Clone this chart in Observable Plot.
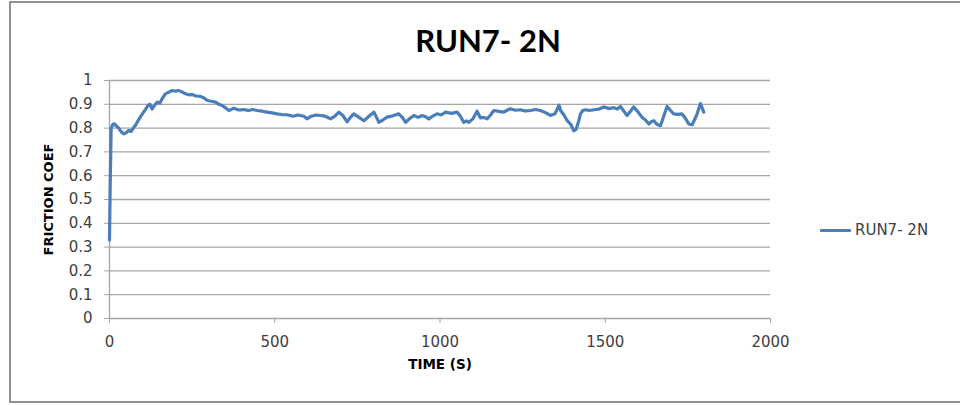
<!DOCTYPE html>
<html><head><meta charset="utf-8">
<script src="https://cdn.jsdelivr.net/npm/d3@7"></script>
<script src="https://cdn.jsdelivr.net/npm/@observablehq/plot@0.6"></script>
<style>
body{margin:0;background:#fff;font-family:"DejaVu Sans",sans-serif;}
#wrap{position:relative;width:960px;height:405px;overflow:hidden;background:#fff;}
#frame{position:absolute;left:9px;top:1px;width:960px;height:402px;border:2px solid #8f8f8f;border-right:none;box-sizing:border-box;pointer-events:none;}
#title{position:absolute;left:338px;width:300px;top:20px;text-align:center;font-family:Lato,sans-serif;font-weight:bold;font-size:31px;color:#000;line-height:40px;}
#legend{position:absolute;left:820px;top:220px;height:20px;display:flex;align-items:center;font-size:15px;color:#404040;}
#legend .sw{width:31px;height:3px;background:#4a7ebb;margin-right:4px;border-radius:1px;}
#chart{position:absolute;left:0;top:0;}
</style>
</head><body>
<div id="wrap">
  <div id="chart"></div>
  <div id="title"></div>
  <div id="legend"><div class="sw"></div><span id="legtext"></span></div>
  <div id="frame"></div>
</div>
<script>
const chartTitle = "RUN7- 2N";
const seriesName = "RUN7- 2N";
const xLabel = "TIME (S)";
const yLabel = "FRICTION COEF";
const xTicks = [0, 500, 1000, 1500, 2000];
const yTicks = [0, 0.1, 0.2, 0.3, 0.4, 0.5, 0.6, 0.7, 0.8, 0.9, 1];

const time = [0,2,5,10,15,20,28,35,43,50,58,65,72,80,88,95,102,110,116,122,129,136,144,152,160,169,178,190,200,207,215,222,230,240,250,262,275,285,296,308,321,331,341,351,361,368,376,390,406,420,434,447,462,477,492,507,522,538,555,570,578,588,598,610,625,638,652,669,682,694,706,719,729,739,755,770,785,800,808,815,828,840,858,875,886,896,908,921,934,946,956,966,978,991,1004,1017,1035,1052,1062,1072,1080,1087,1100,1112,1118,1122,1132,1143,1153,1163,1178,1193,1203,1213,1228,1243,1258,1274,1289,1304,1319,1334,1348,1360,1365,1375,1385,1395,1405,1412,1420,1425,1432,1440,1452,1466,1481,1496,1511,1526,1536,1546,1556,1566,1576,1586,1598,1611,1621,1632,1640,1647,1657,1667,1677,1687,1697,1707,1720,1732,1743,1753,1763,1770,1778,1788,1793,1798];

const coef = [0.33,0.55,0.80,0.815,0.818,0.81,0.80,0.785,0.776,0.78,0.79,0.785,0.80,0.815,0.835,0.85,0.865,0.88,0.895,0.90,0.88,0.895,0.909,0.905,0.925,0.944,0.95,0.958,0.955,0.958,0.955,0.95,0.944,0.94,0.941,0.935,0.933,0.928,0.916,0.913,0.909,0.90,0.895,0.885,0.874,0.878,0.884,0.876,0.878,0.874,0.878,0.874,0.871,0.867,0.864,0.86,0.857,0.856,0.85,0.855,0.853,0.85,0.839,0.85,0.855,0.853,0.85,0.839,0.85,0.867,0.853,0.826,0.845,0.86,0.845,0.831,0.85,0.867,0.845,0.824,0.835,0.846,0.852,0.86,0.845,0.824,0.84,0.853,0.845,0.853,0.848,0.839,0.85,0.86,0.855,0.867,0.862,0.867,0.85,0.824,0.83,0.824,0.84,0.871,0.855,0.843,0.845,0.839,0.855,0.874,0.87,0.867,0.875,0.881,0.875,0.877,0.872,0.874,0.878,0.874,0.865,0.853,0.86,0.896,0.874,0.855,0.831,0.817,0.789,0.795,0.831,0.86,0.874,0.877,0.874,0.877,0.88,0.889,0.882,0.886,0.88,0.891,0.872,0.853,0.87,0.889,0.87,0.846,0.835,0.817,0.828,0.831,0.815,0.81,0.85,0.891,0.875,0.86,0.858,0.86,0.84,0.817,0.814,0.835,0.86,0.903,0.885,0.867];

const data = time.map((t, i) => ({t, c: coef[i]}));
const grid = "#a6a6a6";

document.getElementById("title").textContent = chartTitle;
document.getElementById("legtext").textContent = seriesName;

const chart = Plot.plot({
  width: 960, height: 405,
  marginLeft: 109, marginRight: 190, marginTop: 80, marginBottom: 87,
  style: {fontFamily: "'DejaVu Sans', sans-serif", fontSize: "15px", color: "#404040", background: "transparent", overflow: "visible"},
  x: {domain: [0, 2000], label: null},
  y: {domain: [0, 1], label: null},
  marks: [
    Plot.ruleY(yTicks, {stroke: grid, strokeWidth: 1.3}),
    Plot.ruleX([0], {stroke: grid, strokeWidth: 1.3}),
    Plot.axisY({ticks: yTicks, tickSize: 5, tickPadding: 12, stroke: grid, fill: "#404040", tickFormat: d => String(+d.toFixed(1)), label: null}),
    Plot.axisX({ticks: xTicks, tickSize: 5, tickPadding: 13, stroke: grid, fill: "#404040", tickFormat: d => String(d), label: null}),
    Plot.line(data, {x: "t", y: "c", stroke: "#4a7ebb", strokeWidth: 3.2, strokeLinejoin: "round"}),
    Plot.text([yLabel], {text: d => d, frameAnchor: "left", textAnchor: "middle", dx: -61, rotate: -90, fontWeight: "bold", fontSize: 13, fill: "#000"}),
    Plot.text([xLabel], {text: d => d, frameAnchor: "bottom", textAnchor: "middle", dy: 50, fontWeight: "bold", fontSize: 13.5, fill: "#000"})
  ]
});
document.getElementById("chart").appendChild(chart);
</script>
</body></html>
